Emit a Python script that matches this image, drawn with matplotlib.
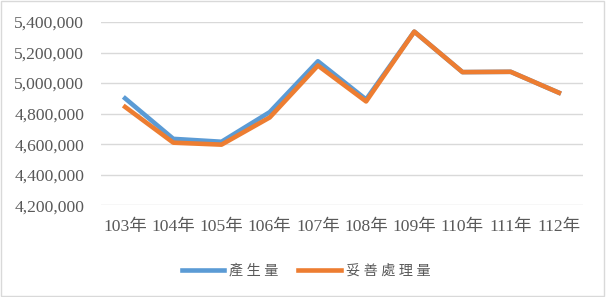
import matplotlib
matplotlib.use("Agg")
import matplotlib.pyplot as plt
from matplotlib.patches import Rectangle
from matplotlib.ticker import FuncFormatter

years = ['103年', '104年', '105年', '106年', '107年', '108年', '109年', '110年', '111年', '112年']
produced = [4900000, 4635000, 4616000, 4810000, 5143000, 4893000, 5337000, 5072000, 5074000, 4937000]
treated = [4844000, 4610000, 4597000, 4775000, 5115000, 4880000, 5337000, 5072000, 5074000, 4937000]
series_names = ['產生量', '妥善處理量']

plt.rcParams['font.family'] = ['Liberation Serif', 'Noto Sans CJK TC']
text_color = '#595959'

fig = plt.figure(figsize=(6.06, 2.97), dpi=100)
ax = fig.add_axes([0.1667, 0.3088, 0.7953, 0.6171])

x = list(range(len(years)))
# spaced-out legend labels like the original
labels = [' '.join(n) for n in series_names]
ax.plot(x, produced, color='#5B9BD5', lw=3.3, label=labels[0])
ax.plot(x, treated, color='#ED7D31', lw=3.3, label=labels[1])

ax.set_xlim(-0.5, len(years) - 0.5)
ax.set_ylim(4200000, 5400000)
ax.set_yticks(range(4200000, 5400001, 200000))
ax.yaxis.set_major_formatter(FuncFormatter(lambda v, p: f'{int(v):,}'))
ax.set_xticks(x)
ax.set_xticklabels(years)
ax.grid(axis='y', color='#D9D9D9', lw=1)
ax.set_axisbelow(True)
for s in ax.spines.values():
    s.set_visible(False)
ax.tick_params(axis='both', length=0, labelsize=12.6, colors=text_color)
ax.tick_params(axis='y', pad=12)
ax.tick_params(axis='x', pad=10)

leg = fig.legend(loc='center', bbox_to_anchor=(0.505, 0.088), ncol=2, frameon=False,
                 fontsize=10.2, handlelength=3.0, handletextpad=0.35, columnspacing=1.4)
for t in leg.get_texts():
    t.set_color(text_color)

fig.patches.append(Rectangle((0.002, 0.003), 0.995, 0.993, transform=fig.transFigure,
                             fill=False, edgecolor='#D9D9D9', lw=1))

fig.savefig('out.png', dpi=100)
